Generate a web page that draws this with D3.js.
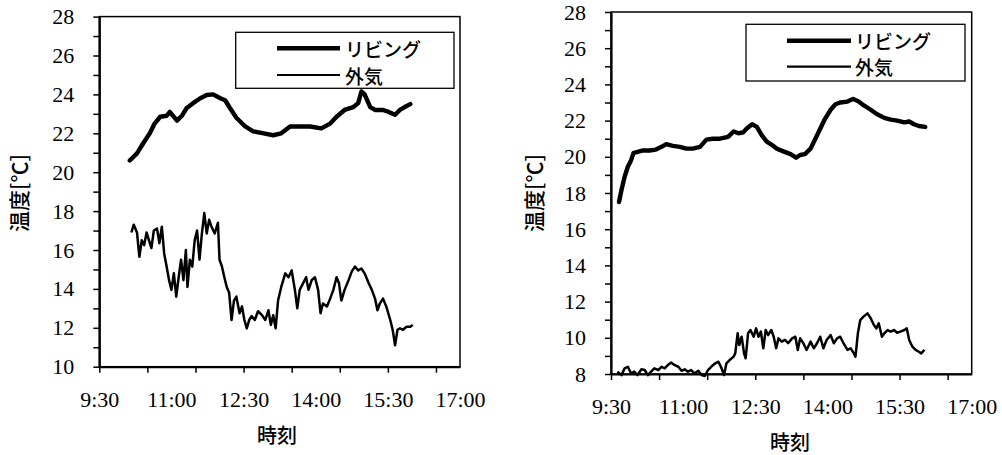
<!DOCTYPE html>
<html><head><meta charset="utf-8">
<script src="https://cdn.jsdelivr.net/npm/d3@7"></script>
<style>
html,body{margin:0;padding:0;background:#fff;}
svg{display:block;}
</style></head>
<body><svg id="c" width="1002" height="455"></svg>
<script>
// ---- data (left chart) ----
const livingTimesL = ["10:08","10:17","10:25","10:33","10:39","10:46","10:54","10:58","11:02","11:07","11:13","11:19","11:27","11:36","11:44","11:52","12:01","12:07","12:13","12:21","12:32","12:42","12:55","13:07","13:17","13:28","13:40","13:53","14:07","14:18","14:26","14:36","14:47","14:53","14:57","15:01","15:08","15:14","15:24","15:31","15:39","15:45","15:51","15:58"];
const livingValuesL = [20.6,20.97,21.5,22.0,22.5,22.85,22.9,23.1,22.9,22.65,22.9,23.3,23.55,23.8,23.97,24.0,23.8,23.7,23.3,22.8,22.35,22.1,22.0,21.9,22.0,22.35,22.35,22.35,22.25,22.5,22.85,23.2,23.35,23.55,24.15,24.0,23.35,23.2,23.2,23.1,22.95,23.2,23.35,23.5];
const outsideTimesL = ["10:10","10:13","10:17","10:20","10:23","10:26","10:29","10:32","10:35","10:38","10:42","10:45","10:48","10:51","10:54","10:57","11:00","11:03","11:06","11:09","11:12","11:15","11:18","11:20","11:23","11:26","11:29","11:32","11:35","11:38","11:41","11:44","11:47","11:50","11:54","11:58","12:00","12:03","12:06","12:09","12:12","12:15","12:18","12:21","12:25","12:28","12:31","12:34","12:37","12:40","12:44","12:48","12:53","12:57","13:01","13:04","13:07","13:10","13:13","13:17","13:22","13:26","13:30","13:34","13:37","13:40","13:45","13:48","13:51","13:55","13:59","14:03","14:06","14:09","14:14","14:18","14:22","14:26","14:29","14:32","14:36","14:41","14:45","14:49","14:53","14:57","15:01","15:06","15:10","15:14","15:17","15:20","15:24","15:28","15:33","15:36","15:39","15:42","15:45","15:49","15:53","15:58","16:01"];
const outsideValuesL = [16.9,17.3,16.9,15.65,16.5,16.25,16.9,16.5,16.1,17.0,17.1,16.35,17.2,15.8,15.15,14.45,13.95,14.8,13.6,14.6,15.5,14.45,16.0,14.1,15.5,15.15,16.5,17.0,15.5,16.85,17.9,16.85,17.55,17.2,16.85,17.4,15.5,15.15,14.6,14.1,13.8,12.4,13.4,13.6,12.75,13.1,12.4,11.97,12.4,12.6,12.4,12.85,12.65,12.4,12.9,12.15,12.65,11.97,13.4,14.1,14.8,14.6,14.95,13.95,13.0,13.95,14.35,14.6,13.95,14.45,14.6,13.95,12.75,13.25,13.1,13.5,13.95,14.6,14.3,13.4,13.95,14.45,14.9,15.15,14.95,15.05,14.8,14.3,13.95,13.5,12.9,13.25,13.5,13.1,12.4,11.9,11.1,11.9,11.97,11.9,12.05,12.05,12.15];

// ---- data (right chart) ----
const livingTimesR = ["9:40","9:43","9:47","9:51","9:55","9:58","10:01","10:10","10:18","10:26","10:33","10:39","10:47","10:56","11:04","11:12","11:21","11:29","11:37","11:46","11:56","12:03","12:09","12:15","12:19","12:26","12:32","12:38","12:44","12:51","12:57","13:05","13:14","13:21","13:26","13:32","13:39","13:45","13:51","13:57","14:04","14:10","14:16","14:25","14:32","14:39","14:45","14:54","15:02","15:11","15:19","15:27","15:36","15:42","15:48","15:54","16:02"];
const livingValuesR = [17.5,18.15,18.9,19.45,19.8,20.2,20.25,20.35,20.35,20.4,20.55,20.7,20.6,20.55,20.45,20.45,20.55,20.95,21.0,21.0,21.1,21.4,21.3,21.35,21.55,21.8,21.65,21.2,20.85,20.65,20.45,20.3,20.15,19.95,20.1,20.15,20.45,21.0,21.55,22.1,22.6,22.9,23.0,23.05,23.2,23.05,22.85,22.6,22.35,22.15,22.05,22.0,21.9,21.95,21.8,21.7,21.65];
const outsideTimesR = ["9:38","9:43","9:47","9:51","9:55","9:59","10:03","10:08","10:12","10:16","10:20","10:24","10:29","10:33","10:37","10:41","10:45","10:49","10:54","10:58","11:02","11:06","11:10","11:14","11:19","11:23","11:27","11:31","11:35","11:40","11:44","11:48","11:51","11:54","11:58","12:03","12:05","12:08","12:10","12:13","12:16","12:18","12:21","12:24","12:28","12:31","12:34","12:37","12:40","12:43","12:46","12:50","12:53","12:56","12:59","13:03","13:07","13:11","13:16","13:20","13:23","13:26","13:30","13:34","13:39","13:43","13:47","13:51","13:55","13:59","14:04","14:08","14:12","14:16","14:20","14:25","14:29","14:33","14:35","14:38","14:41","14:45","14:50","14:54","14:58","15:01","15:04","15:08","15:11","15:15","15:19","15:23","15:27","15:31","15:36","15:39","15:42","15:46","15:50","15:54","15:57","16:01"];
const outsideValuesR = [8.13,7.94,8.31,8.4,8.04,8.13,7.94,8.26,8.22,7.94,8.13,8.31,8.22,8.4,8.31,8.5,8.63,8.5,8.4,8.18,8.26,8.13,8.22,8.04,8.18,7.94,7.89,8.22,8.4,8.59,8.68,8.31,7.94,8.59,8.77,8.96,9.14,10.25,9.6,10.06,9.14,8.87,10.25,10.43,10.06,10.52,10.06,10.34,9.42,10.43,10.15,10.43,10.06,9.42,9.97,9.79,9.88,9.7,9.97,10.06,9.33,9.97,9.7,9.33,9.79,9.42,9.7,10.06,9.42,9.88,10.15,9.7,9.97,10.06,9.7,9.33,9.42,9.14,8.96,10.25,10.98,11.17,11.35,11.08,10.71,10.52,10.8,10.06,10.25,10.43,10.34,10.43,10.28,10.34,10.43,10.52,9.88,9.51,9.33,9.23,9.14,9.33];

// ---- axes ----
const xLabelTimes = ["9:30","11:00","12:30","14:00","15:30","17:00"];
const xTickTimes = ["9:30","10:30","11:30","12:30","13:30","14:30","15:30","16:30"];
const yTicksL = [10,11,12,13,14,15,16,17,18,19,20,21,22,23,24,25,26,27,28];
const yTicksR = [8,9,10,11,12,13,14,15,16,17,18,19,20,21,22,23,24,25,26,27,28];
const seriesNames = ["リビング","外気"];
const yTitle = "温度[℃]";
const xTitle = "時刻";

const SERIF = "'Liberation Serif', 'DejaVu Serif', serif";
const JP = "'Noto Sans CJK JP', sans-serif";
const parse = d3.timeParse("%H:%M");
const svg = d3.select("#c");
svg.append("rect").attr("width",1002).attr("height",455).attr("fill","#fff");

const charts = [
  {left:99.3,right:460,bottom:366.7,top:16.6,ydom:[10,28],yTicks:yTicksL,
   living:[livingTimesL,livingValuesL],outside:[outsideTimesL,outsideValuesL],
   xLabPad:25,yTitleX:18,yTitleY:193,xTitleX:277,xTitleY:434,
   legend:{x0:235.7,y0:32.3,x1:454,y1:88.3,lx0:277,lx1:340,ly1:48.3,ly2:75,tx:345}},
  {left:611,right:971.7,bottom:374,top:12,ydom:[8,28],yTicks:yTicksR,
   living:[livingTimesR,livingValuesR],outside:[outsideTimesR,outsideValuesR],
   xLabPad:24.5,yTitleX:533,yTitleY:193,xTitleX:790,xTitleY:441,
   legend:{x0:746,y0:24.3,x1:965,y1:81,lx0:787,lx1:851,ly1:40.7,ly2:66.7,tx:855}}
];

charts.forEach(c => {
  const x = d3.scaleTime().domain([parse("9:30"), parse("17:00")]).range([c.left, c.right]);
  const y = d3.scaleLinear().domain(c.ydom).range([c.bottom, c.top]);
  const g = svg.append("g");

  g.append("rect").attr("x",c.left).attr("y",c.top)
    .attr("width",c.right-c.left).attr("height",c.bottom-c.top)
    .attr("fill","none").attr("stroke","#000").attr("stroke-width",1.5);

  const line = d3.line().x(d => x(d[0])).y(d => y(d[1]));
  const mk = (s) => s[0].map((t,i) => [parse(t), s[1][i]]);
  g.append("path").datum(mk(c.outside)).attr("d",line)
    .attr("fill","none").attr("stroke","#000").attr("stroke-width",2.5).attr("stroke-linejoin","round");
  g.append("path").datum(mk(c.living)).attr("d",line)
    .attr("fill","none").attr("stroke","#000").attr("stroke-width",4.4).attr("stroke-linejoin","round").attr("stroke-linecap","round");

  const xt = g.append("g").attr("transform",`translate(0,${c.bottom})`)
    .call(d3.axisBottom(x).tickValues(xTickTimes.map(parse)).tickSize(6).tickSizeOuter(0).tickFormat(""));
  xt.select(".domain").attr("stroke-width",2.2);
  xt.selectAll(".tick line").attr("stroke-width",1.5);

  const xl = g.append("g").attr("transform",`translate(0,${c.bottom})`)
    .call(d3.axisBottom(x).tickValues(xLabelTimes.map(parse)).tickSize(0).tickPadding(c.xLabPad)
      .tickFormat(d3.timeFormat("%-H:%M")));
  xl.style("font-family",SERIF).style("font-size","22px");
  xl.select(".domain").remove();
  xl.selectAll("text").style("font-family",SERIF).style("font-size","22px").attr("fill","#000");

  const ya = g.append("g").attr("transform",`translate(${c.left},0)`)
    .call(d3.axisLeft(y).tickValues(c.yTicks).tickSize(6).tickSizeOuter(0).tickPadding(19)
      .tickFormat(d => d % 2 === 0 ? d : ""));
  ya.style("font-family",SERIF).style("font-size","22px");
  ya.select(".domain").attr("stroke-width",2.2);
  ya.selectAll(".tick line").attr("stroke-width",1.5);
  ya.selectAll("text").style("font-family",SERIF).style("font-size","22px").attr("fill","#000");

  g.append("text").attr("transform",`translate(${c.yTitleX},${c.yTitleY}) rotate(-90)`)
    .attr("text-anchor","middle").attr("dominant-baseline","central")
    .style("font-family",JP).style("font-size","21px").style("font-weight","500").text(yTitle);
  g.append("text").attr("x",c.xTitleX).attr("y",c.xTitleY)
    .attr("text-anchor","middle").attr("dominant-baseline","central")
    .style("font-family",JP).style("font-size","20px").style("font-weight","500").text(xTitle);

  const L = c.legend;
  g.append("rect").attr("x",L.x0).attr("y",L.y0).attr("width",L.x1-L.x0).attr("height",L.y1-L.y0)
    .attr("fill","#fff").attr("stroke","#000").attr("stroke-width",1.3);
  [[L.ly1,4.4],[L.ly2,2.2]].forEach((p,i) => {
    g.append("line").attr("x1",L.lx0).attr("x2",L.lx1).attr("y1",p[0]).attr("y2",p[0])
      .attr("stroke","#000").attr("stroke-width",p[1]);
    g.append("text").attr("x",L.tx).attr("y",p[0]).attr("dominant-baseline","central")
      .style("font-family",JP).style("font-size","19px").style("font-weight","500").text(seriesNames[i]);
  });
});
</script></body></html>
